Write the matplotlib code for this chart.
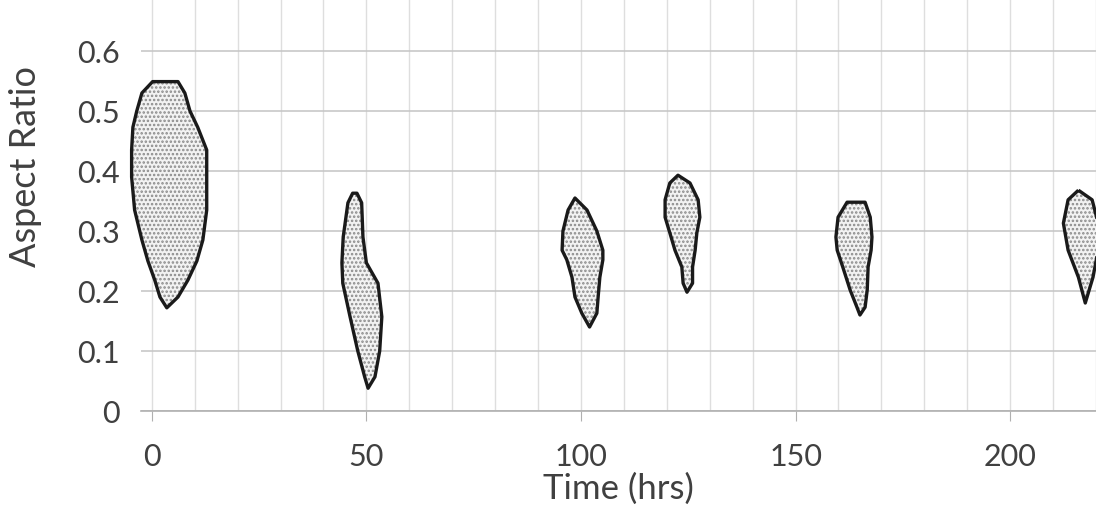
import numpy as np
import matplotlib.pyplot as plt

plt.rcParams['font.family'] = ['Lato', 'DejaVu Sans']
plt.rcParams['hatch.linewidth'] = 1.2

# Outline of each violin-like blob: levels of aspect ratio and left/right edge (hrs)
blob_y = [
    [0.549, 0.53, 0.50, 0.473, 0.435, 0.39, 0.335, 0.285, 0.25, 0.218, 0.19, 0.172],
    [0.363, 0.347, 0.29, 0.247, 0.213, 0.157, 0.10, 0.057, 0.038],
    [0.355, 0.335, 0.30, 0.268, 0.252, 0.223, 0.19, 0.163, 0.14],
    [0.393, 0.38, 0.352, 0.323, 0.297, 0.268, 0.24, 0.213, 0.198],
    [0.348, 0.323, 0.29, 0.268, 0.24, 0.202, 0.173, 0.16],
    [0.368, 0.352, 0.313, 0.268, 0.223, 0.18],
]
blob_left = [
    [0.2, -2.3, -3.5, -4.4, -4.7, -4.7, -4.0, -2.3, -0.9, 0.7, 1.9, 3.5],
    [46.8, 45.7, 44.6, 44.3, 44.5, 46.2, 48.0, 49.6, 50.4],
    [98.6, 97.0, 95.8, 95.6, 96.7, 97.9, 98.6, 100.2, 102.0],
    [122.6, 120.7, 119.6, 119.6, 120.7, 121.9, 123.5, 123.8, 124.7],
    [162.0, 159.9, 159.4, 159.7, 161.0, 162.7, 164.3, 165.0],
    [215.9, 213.5, 212.4, 213.5, 215.9, 217.5],
]
blob_right = [
    [6.1, 7.7, 8.9, 10.7, 12.8, 12.8, 12.8, 11.9, 10.5, 8.4, 6.1, 3.5],
    [47.8, 48.9, 49.2, 50.0, 52.7, 53.6, 53.1, 52.0, 50.4],
    [98.6, 101.4, 103.7, 105.1, 105.1, 104.4, 104.0, 103.7, 102.0],
    [122.6, 125.4, 127.3, 127.7, 127.0, 126.6, 126.0, 126.0, 124.7],
    [166.2, 167.4, 167.8, 167.6, 166.9, 166.7, 166.2, 165.0],
    [215.9, 219.1, 220.5, 220.5, 219.3, 217.5],
]

xticks = [0, 50, 100, 150, 200]
yticks = [0, 0.1, 0.2, 0.3, 0.4, 0.5, 0.6]
yticklabels = ['0', '0.1', '0.2', '0.3', '0.4', '0.5', '0.6']

fig = plt.figure(figsize=(10.96, 5.07), dpi=100)
ax = fig.add_axes([0.1287, 0.1893, 0.8713, 0.8107])

for ys, lx, rx in zip(blob_y, blob_left, blob_right):
    px = np.concatenate([lx, rx[::-1]])
    py = np.concatenate([ys, ys[::-1]])
    ax.fill(px, py, facecolor='#f2f2f2', edgecolor='#8a8a8a', hatch='....',
            linewidth=0, zorder=3, clip_on=False)
    ax.fill(px, py, facecolor='none', edgecolor='#1a1a1a', linewidth=2.4,
            joinstyle='round', zorder=4, clip_on=False)

ax.set_xlim(-2.5, 220)
ax.set_ylim(0, 0.685)

ax.set_xticks(xticks)
ax.set_xticks(np.arange(0, 221, 10), minor=True)
ax.set_yticks(yticks)
ax.set_yticklabels(yticklabels)

ax.grid(True, which='major', axis='y', color='#c4c4c4', linewidth=1.1)
ax.grid(True, which='both', axis='x', color='#dedede', linewidth=1.0)
ax.set_axisbelow(True)

for s in ['top', 'right', 'left']:
    ax.spines[s].set_visible(False)
ax.spines['bottom'].set_color('#b0b0b0')
ax.spines['bottom'].set_linewidth(1.2)

ax.tick_params(axis='x', which='major', length=7, color='#b0b0b0', pad=16,
               labelsize=22, labelcolor='#404040')
ax.tick_params(axis='x', which='minor', length=0)
ax.tick_params(axis='y', length=0, pad=15, labelsize=22, labelcolor='#404040')

ax.set_xlabel('Time (hrs)', fontsize=25, color='#404040', labelpad=1)
ax.set_ylabel('Aspect Ratio', fontsize=26, color='#404040')
ax.yaxis.set_label_coords(-0.104, 0.594)

fig.savefig('out.png', dpi=100)
